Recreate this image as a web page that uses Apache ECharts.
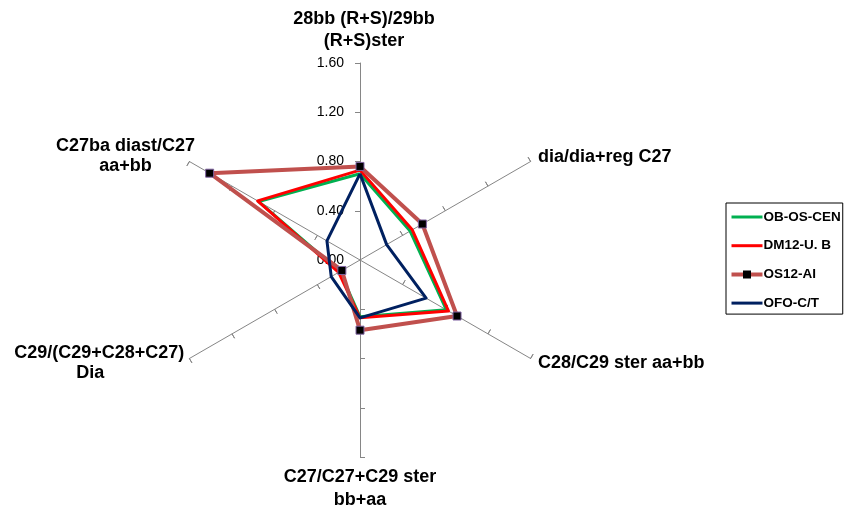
<!DOCTYPE html>
<html>
<head>
<meta charset="utf-8">
<script src="https://cdn.jsdelivr.net/npm/echarts@6/dist/echarts.min.js"></script>
<style>
  html, body { margin: 0; padding: 0; background: #fff; }
  #chart { width: 856px; height: 509px; }
</style>
</head>
<body>
<div id="chart"></div>
<script>
// axes, listed counter-clockwise from the top
const indicators = [
    '28bb (R+S)/29bb\n(R+S)ster',
    'C27ba diast/C27\naa+bb',
    'C29/(C29+C28+C27)\nDia',
    'C27/C27+C29 ster\nbb+aa',
    'C28/C29 ster aa+bb',
    'dia/dia+reg C27'
]
const seriesNames = ['OB-OS-CEN', 'DM12-U. B', 'OS12-AI', 'OFO-C/T']
const obOsCen = [0.70, 0.95, 0.19, 0.46, 0.81, 0.47]
const dm12 = [0.73, 0.96, 0.20, 0.47, 0.83, 0.49]
const os12 = [0.76, 1.41, 0.17, 0.57, 0.91, 0.585]
const ofo = [0.70, 0.31, 0.27, 0.47, 0.62, 0.25]
const axisMin = 0
const axisMax = 1.6
const axisStep = 0.4
const tickValues = [0.4, 0.8, 1.2, 1.6]

const font = 'Arial, "Liberation Sans", sans-serif'
const center = [360, 260]
const radius = 197
const axisGray = '#868686'
const brown = '#C0504D'

// how each axis title is laid out: which radar copy draws it (own nameGap) and its text styles
const nameLayout = [
    { gap: 11, lines: ['top', 'top'] },
    { gap: -6.5, lines: ['ul', 'ul'], after: 'sp18' },
    { gap: 5.9, lines: ['ll', 'llDia'], before: 'sp4' },
    { gap: 8.5, lines: ['bot', 'bot'] },
    { gap: 8.5, lines: ['side'] },
    { gap: 8.5, lines: ['side'] }
]
const nameRich = {
    top: { align: 'center', lineHeight: 22, padding: [0, 0, 0, 8] },
    ul: { align: 'center', lineHeight: 20 },
    ll: { align: 'left', lineHeight: 20 },
    llDia: { align: 'left', lineHeight: 20, padding: [0, 0, 0, 62] },
    bot: { align: 'center', lineHeight: 23 },
    side: { lineHeight: 20 },
    sp18: { fontSize: 1, lineHeight: 18 },
    sp4: { fontSize: 1, lineHeight: 4 }
}

function nameFormatter(gap) {
    return function (name) {
        const i = indicators.indexOf(name)
        const lay = nameLayout[i]
        if (!lay || lay.gap !== gap) {
            return ''
        }
        const out = name.split('\n').map((s, k) => '{' + lay.lines[k] + '|' + s + '}')
        if (lay.before) out.unshift('{' + lay.before + '| }')
        if (lay.after) out.push('{' + lay.after + '| }')
        return out.join('\n')
    }
}

const radarBase = {
    center: center,
    radius: radius,
    startAngle: 90,
    splitNumber: (axisMax - axisMin) / axisStep,
    indicator: indicators.map(n => ({ name: n, min: axisMin, max: axisMax })),
    splitLine: { show: false },
    splitArea: { show: false },
    axisLabel: { show: false }
}
const gaps = [...new Set(nameLayout.map(l => l.gap))]
const mainRadar = gaps.indexOf(8.5)
const tickRadar = gaps.indexOf(5.9)
const radars = gaps.map((gap, k) => Object.assign({}, radarBase, {
    axisLine: { show: k === mainRadar, lineStyle: { color: axisGray, width: 1 } },
    axisTick: {
        show: k === mainRadar || k === tickRadar,
        inside: k === tickRadar,
        length: 5,
        customValues: tickValues,
        lineStyle: { color: axisGray }
    },
    nameGap: gap,
    axisName: {
        color: '#000',
        fontFamily: font,
        fontSize: 18,
        fontWeight: 'bold',
        formatter: nameFormatter(gap),
        rich: nameRich
    }
}))

const chart = echarts.init(document.getElementById('chart'))
const os12Icon = 'path://M0,2H11.5V0H19.5V2H31V6H19.5V8H11.5V6H0Z'
const lineIcon = 'path://M0,0H31V3H0Z'
const os12Fill = new echarts.graphic.LinearGradient(0, 0, 1, 0, [
    { offset: 0, color: brown }, { offset: 0.37, color: brown },
    { offset: 0.371, color: '#000' }, { offset: 0.629, color: '#000' },
    { offset: 0.63, color: brown }, { offset: 1, color: brown }
])

const option = {
    backgroundColor: '#fff',
    animation: false,
    textStyle: { fontFamily: font },
    legend: {
        orient: 'vertical',
        left: 726,
        top: 203,
        padding: [7, 2, 4, 5.5],
        itemGap: 14.7,
        itemWidth: 31,
        itemHeight: 14,
        borderColor: '#000',
        borderWidth: 1,
        borderRadius: 0,
        textStyle: { fontFamily: font, fontSize: 13.5, fontWeight: 'bold', color: '#000', padding: [0, 0, 0, -4] },
        data: [
            { name: seriesNames[0], icon: lineIcon },
            { name: seriesNames[1], icon: lineIcon },
            { name: seriesNames[2], icon: os12Icon, itemStyle: { color: os12Fill, borderWidth: 0 } },
            { name: seriesNames[3], icon: lineIcon }
        ]
    },
    radar: radars,
    polar: { center: center, radius: radius },
    angleAxis: { type: 'value', startAngle: 90, show: false },
    radiusAxis: {
        type: 'value',
        min: axisMin,
        max: axisMax,
        interval: axisStep,
        axisLine: { show: false },
        axisTick: { show: false },
        splitLine: { show: false },
        axisLabel: {
            color: '#000',
            fontFamily: font,
            fontSize: 14,
            margin: 16,
            formatter: v => v.toFixed(2)
        }
    },
    series: [
        {
            type: 'radar', radarIndex: mainRadar, name: seriesNames[0], symbol: 'none',
            lineStyle: { color: '#00B050', width: 3 }, itemStyle: { color: '#00B050' },
            data: [{ name: seriesNames[0], value: obOsCen }]
        },
        {
            type: 'radar', radarIndex: mainRadar, name: seriesNames[1], symbol: 'none',
            lineStyle: { color: '#FF0000', width: 3 }, itemStyle: { color: '#FF0000' },
            data: [{ name: seriesNames[1], value: dm12 }]
        },
        {
            type: 'radar', radarIndex: mainRadar, name: seriesNames[2], symbol: 'rect', symbolSize: 8,
            lineStyle: { color: brown, width: 4 },
            itemStyle: { color: '#000', borderColor: '#8064A2', borderWidth: 1 },
            data: [{ name: seriesNames[2], value: os12 }]
        },
        {
            type: 'radar', radarIndex: mainRadar, name: seriesNames[3], symbol: 'none',
            lineStyle: { color: '#002060', width: 3 }, itemStyle: { color: '#002060' },
            data: [{ name: seriesNames[3], value: ofo }]
        }
    ]
}
chart.setOption(option)
</script>
</body>
</html>
